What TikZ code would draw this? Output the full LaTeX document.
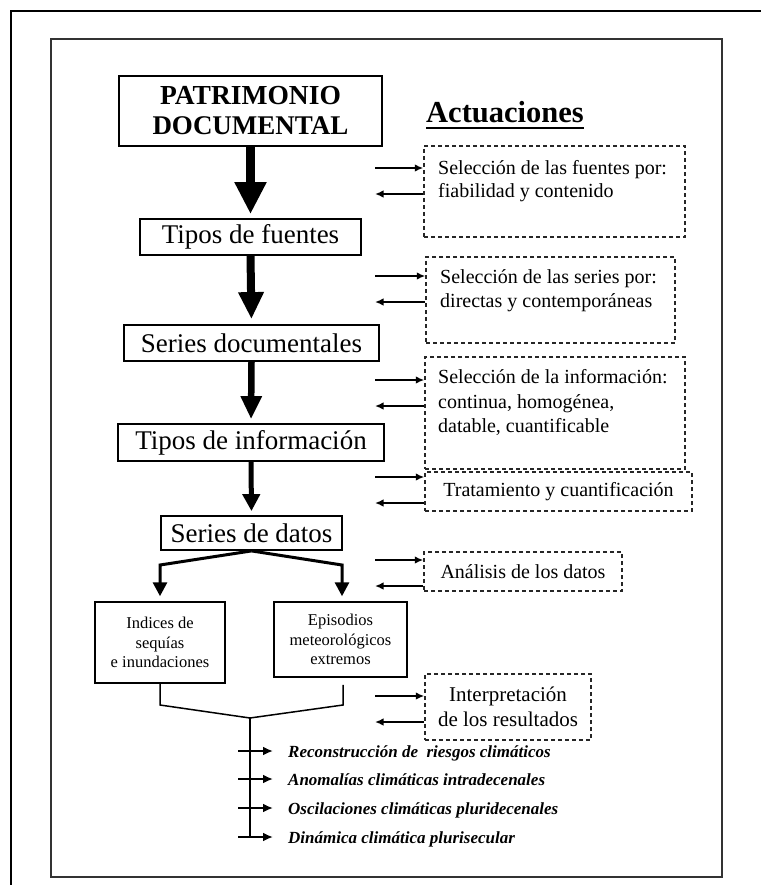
\documentclass[tikz,border=0pt]{standalone}
\usepackage{fontspec}
\setmainfont{Liberation Serif}
\usetikzlibrary{arrows.meta}
\begin{document}
\begin{tikzpicture}[x=1pt,y=-1pt,
  mainbox/.style={draw=black, line width=1.8pt, inner sep=0pt, font=\fontsize{27}{30}\selectfont, align=center},
  smallbox/.style={draw=black, line width=1.5pt, inner sep=0pt, font=\fontsize{16.5}{19.5}\selectfont, align=center},
  dbox/.style={draw=black!85, line width=1.5pt, dash pattern=on 4pt off 3pt, inner sep=0pt, font=\fontsize{20}{25}\selectfont, align=center},
  dtext/.style={anchor=base west, inner sep=0pt, font=\fontsize{20}{24}\selectfont},
  sidearrow/.style={line width=1.6pt, -{Latex[length=8.5pt,width=7.5pt]}},
  outarrow/.style={line width=2.5pt, -{Latex[length=10pt,width=9pt]}},
  outtext/.style={anchor=base west, inner sep=0pt, font=\fontsize{17}{20}\selectfont\bfseries\itshape},
  mergeline/.style={line width=1.5pt},
]
\useasboundingbox (0,0) rectangle (761,885);
\fill[white] (0,0) rectangle (761,885);
% frames
\draw[line width=2.2pt] (11,885) -- (11,11) -- (761,11);
\draw[line width=1.5pt, black!80] (51,39) rectangle (722,877);

% main column
\node[mainbox, minimum width=263pt, minimum height=70pt] (p) at (250.5,111) {\fontsize{27.5}{30}\selectfont\bfseries PATRIMONIO\\\bfseries DOCUMENTAL};
\node[mainbox, minimum width=221pt, minimum height=36pt] (tf) at (250.5,237) {Tipos de fuentes};
\node[mainbox, minimum width=255pt, minimum height=36pt] (sd) at (251.5,343) {Series documentales};
\node[mainbox, minimum width=266pt, minimum height=37pt] (ti) at (251,442.5) {Tipos de información};
\node[mainbox, minimum width=181pt, minimum height=34pt] (sdat) at (251.5,533) {Series de datos};
\node[smallbox, minimum width=130pt, minimum height=81pt] (idx) at (160,642.5) {Indices de\\sequías\\e inundaciones};
\node[smallbox, minimum width=133pt, minimum height=75pt] (epi) at (340.5,639.5) {Episodios\\meteorológicos\\extremos};

% heading
\node[anchor=base west, inner sep=0pt, font=\fontsize{30.5}{32}\selectfont\bfseries] (act) at (426,123) {Actuaciones};
\draw[line width=2pt] ([yshift=-5pt]act.base west) -- ([yshift=-5pt]act.base east);

% thick arrows
\draw[line width=9pt, -{Triangle[width=30pt,length=32pt]}, shorten >=4pt] (p.south) -- (tf.north);
\draw[line width=8pt, -{Triangle[width=24pt,length=27pt]}, shorten >=5pt] (tf.south) -- (sd.north);
\draw[line width=6.5pt, -{Triangle[width=20pt,length=23pt]}, shorten >=4pt] (sd.south) -- (ti.north);
\draw[line width=5pt, -{Triangle[width=17pt,length=17pt]}, shorten >=4pt] (ti.south) -- (sdat.north);

% branching arrows
\coordinate (bl) at (160,565);
\coordinate (br) at (342,565);
\draw[line width=3pt, -{Triangle[width=14pt,length=14pt]}, shorten >=5pt] (sdat.south) -- (bl) -- (idx.north);
\draw[line width=3pt, -{Triangle[width=14pt,length=14pt]}, shorten >=5pt] (sdat.south) -- (br) -- (br |- epi.north);

% merge
\coordinate (m) at (250,718);
\draw[mergeline] (idx.south) -- (160,705) -- (m) -- (343,705) -- ([xshift=2.5pt,yshift=-7pt]epi.south);

% dashed boxes
\node[dbox, minimum width=261pt, minimum height=91pt] (d1) at (554.5,191.5) {};
\node[dtext] (t1a) at (438,175) {Selección de las fuentes por:};
\node[dtext] (t1b) at (438,198) {fiabilidad y contenido};

\node[dbox, minimum width=249pt, minimum height=86pt] (d2) at (550.5,300) {};
\node[dtext] (t2a) at (440,283) {Selección de las series por:};
\node[dtext] (t2b) at (440,307) {directas y contemporáneas};

\node[dbox, minimum width=260pt, minimum height=112pt] (d3) at (555,413) {};
\node[dtext] (t3a) at (438,383) {Selección de la información:};
\node[dtext] (t3b) at (438,408) {continua, homogénea,};
\node[dtext] (t3c) at (438,432) {datable, cuantificable};

\node[dbox, minimum width=267pt, minimum height=39pt] (d4) at (558.5,491.5) {Tratamiento y cuantificación};
\node[dbox, minimum width=198pt, minimum height=39pt] (d5) at (523,571.5) {Análisis de los datos};
\node[dbox, minimum width=166pt, minimum height=66pt, font=\fontsize{21}{25}\selectfont] (d6) at (508,707) {Interpretación\\de los resultados};

% side arrows
\coordinate (r1) at (375,168); \coordinate (l1) at (375,194);
\coordinate (r2) at (375,276); \coordinate (l2) at (375,302);
\coordinate (r3) at (375,380); \coordinate (l3) at (375,406);
\coordinate (r4) at (375,477); \coordinate (l4) at (375,503);
\coordinate (r5) at (375,560); \coordinate (l5) at (375,586);
\coordinate (r6) at (375,696); \coordinate (l6) at (375,722);
\draw[sidearrow] (r1) -- (r1 -| d1.west);
\draw[sidearrow] (l1 -| d1.west) -- (l1);
\draw[sidearrow] (r2) -- (r2 -| d2.west);
\draw[sidearrow] (l2 -| d2.west) -- (l2);
\draw[sidearrow] (r3) -- (r3 -| d3.west);
\draw[sidearrow] (l3 -| d3.west) -- (l3);
\draw[sidearrow] (r4) -- (r4 -| d4.west);
\draw[sidearrow] (l4 -| d4.west) -- (l4);
\draw[sidearrow] (r5) -- (r5 -| d5.west);
\draw[sidearrow] (l5 -| d5.west) -- (l5);
\draw[sidearrow] (r6) -- (r6 -| d6.west);
\draw[sidearrow] (l6 -| d6.west) -- (l6);

% results
\node[outtext] (o1) at (288,757) {Reconstrucción de\ \ riesgos climáticos};
\node[outtext] (o2) at (288,785) {Anomalías climáticas intradecenales};
\node[outtext] (o3) at (288,814) {Oscilaciones climáticas pluridecenales};
\node[outtext] (o4) at (288,843) {Dinámica climática plurisecular};
\coordinate (a1) at (238,751);
\coordinate (a2) at (238,779);
\coordinate (a3) at (238,808);
\coordinate (a4) at (238,837);
\draw[mergeline] (m) -- (m |- a4);
\draw[outarrow, shorten >=15pt] (a1) -- (a1 -| o1.west);
\draw[outarrow, shorten >=15pt] (a2) -- (a2 -| o2.west);
\draw[outarrow, shorten >=15pt] (a3) -- (a3 -| o3.west);
\draw[outarrow, shorten >=15pt] (a4) -- (a4 -| o4.west);
\end{tikzpicture}
\end{document}
